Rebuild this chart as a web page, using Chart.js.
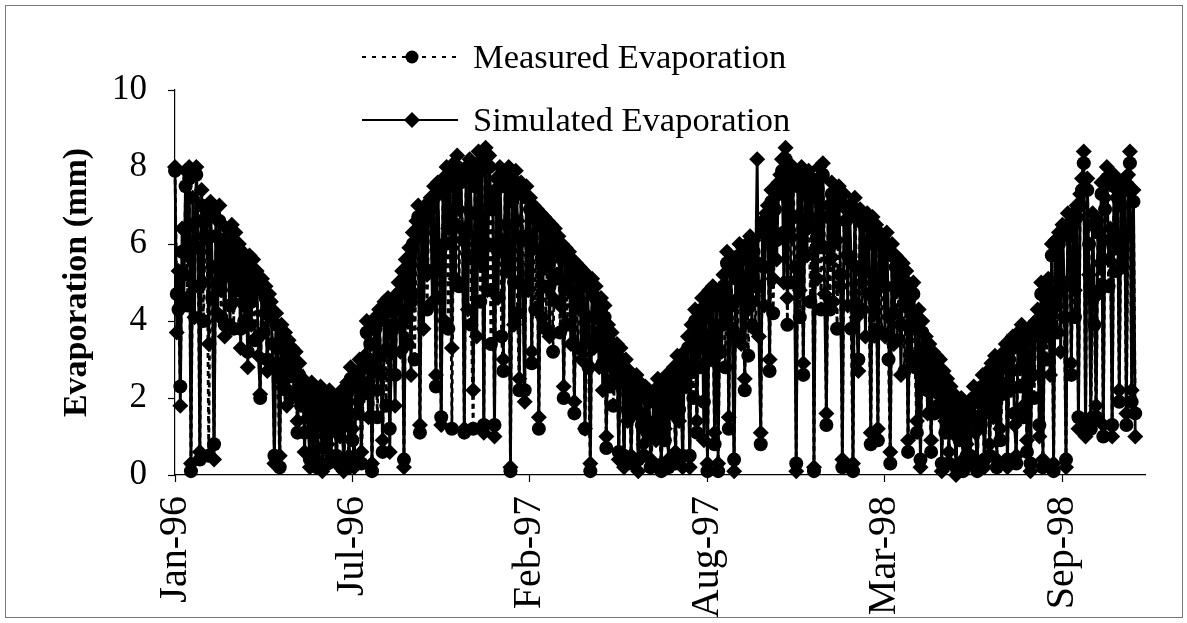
<!DOCTYPE html>
<html>
<head>
<meta charset="utf-8">
<script src="https://cdn.jsdelivr.net/npm/chart.js@4.4.1/dist/chart.umd.min.js"></script>
<style>
  html, body { margin: 0; padding: 0; background: #fff; }
  #wrap { position: relative; width: 1187px; height: 623px; }
  #wrap canvas { position: absolute; left: 0; top: 0; }
  #frame { position: absolute; left: 5px; top: 5px; width: 1176px; height: 611px;
           border: 1px solid #777; pointer-events: none; }
</style>
</head>
<body>
<div id="wrap">
  <canvas id="chart" width="1187" height="623"></canvas>
  <div id="frame"></div>
</div>
<script>
// Evaporation readings every 2 days from 1 Jan 1996 (mm)
const seriesNames = ['Measured Evaporation', 'Simulated Evaporation'];
const startDate = '1996-01-01';
const stepDays = 2;

const measured = [
  7.9, 4.7, 4.3, 2.3, 5.8, 5.2, 7.5, 4.4, 7.7, 0.1, 6.5, 4.9, 7.8, 5.9, 0.4, 7.0, 4.0, 6.2,
  6.9, 0.5, 6.8, 4.6, 0.8, 6.2, 5.0, 6.6, 4.1, 5.8, 3.9, 6.0, 5.2, 4.4, 6.1, 3.8, 5.9, 4.8,
  5.7, 3.8, 5.5, 4.0, 5.0, 3.2, 5.3, 4.5, 5.2, 3.5, 4.9, 3.6, 2.0, 4.8, 3.7, 4.6, 3.0, 4.4,
  4.2, 3.4, 0.5, 3.9, 2.7, 0.2, 3.6, 2.9, 3.4, 2.2, 3.2, 2.0, 3.0, 2.6, 2.9, 1.1, 2.6, 1.8,
  2.2, 1.1, 1.9, 1.8, 0.4, 2.1, 0.6, 1.6, 0.2, 1.3, 2.0, 0.7, 1.6, 1.0, 0.3, 1.9, 1.2, 1.7,
  1.4, 0.5, 1.8, 1.3, 1.9, 0.3, 1.3, 2.1, 0.2, 2.5, 0.9, 0.4, 2.3, 1.6, 2.7, 0.3, 2.1, 2.8,
  3.7, 2.4, 3.4, 0.1, 2.8, 3.8, 1.5, 4.0, 3.1, 0.6, 4.2, 1.8, 4.3, 1.2, 3.2, 3.9, 2.6, 4.4,
  4.7, 3.9, 5.0, 0.4, 5.3, 3.4, 5.6, 4.5, 6.0, 3.0, 6.3, 6.7, 1.1, 6.2, 5.4, 6.6, 4.3, 6.8,
  6.9, 5.3, 7.2, 2.3, 7.3, 4.6, 1.5, 7.4, 6.0, 7.7, 3.8, 7.5, 1.2, 7.8, 6.5, 8.0, 4.9, 7.6,
  6.4, 1.1, 7.7, 5.7, 7.9, 3.9, 1.2, 7.5, 6.2, 8.1, 4.5, 7.9, 1.3, 8.2, 6.0, 8.0, 3.4, 6.9,
  1.3, 7.4, 5.8, 7.7, 3.6, 2.7, 7.5, 6.5, 7.7, 0.1, 7.1, 5.0, 7.6, 4.2, 2.2, 7.3, 6.2, 2.2,
  7.2, 6.1, 6.9, 2.9, 6.7, 4.3, 6.6, 1.2, 6.5, 5.5, 6.4, 3.8, 6.3, 4.9, 6.2, 3.2, 6.1, 5.1,
  5.9, 3.7, 5.7, 2.0, 5.6, 3.9, 5.5, 4.8, 5.3, 1.6, 5.2, 3.3, 5.1, 4.3, 5.0, 1.2, 4.9, 2.8,
  0.1, 4.8, 4.1, 4.6, 3.5, 3.7, 4.3, 2.9, 4.1, 0.7, 3.6, 2.3, 3.4, 1.8, 2.7, 3.1, 0.6, 3.0,
  2.6, 0.5, 2.7, 1.7, 2.4, 0.3, 2.2, 1.6, 2.3, 0.4, 2.1, 1.3, 0.5, 2.0, 1.4, 1.9, 0.2, 1.0,
  1.9, 1.2, 2.2, 1.4, 0.1, 2.0, 0.9, 2.3, 0.2, 2.2, 1.6, 2.5, 0.3, 2.8, 1.7, 2.6, 0.5, 2.9,
  2.6, 3.3, 0.5, 3.6, 2.0, 4.0, 1.1, 3.9, 2.8, 4.3, 1.9, 4.1, 0.1, 4.5, 3.6, 4.6, 0.8, 4.4,
  0.1, 4.4, 3.9, 4.9, 2.8, 5.5, 1.2, 5.3, 4.4, 0.4, 5.1, 3.6, 5.7, 4.8, 5.6, 2.2, 5.7, 3.1,
  5.9, 4.5, 5.8, 3.8, 5.5, 4.9, 0.8, 6.3, 5.4, 6.5, 6.7, 2.7, 7.1, 4.2, 6.9, 6.1, 7.3, 7.5,
  7.9, 6.3, 8.2, 3.9, 7.8, 5.0, 7.7, 6.7, 0.3, 7.5, 4.1, 7.7, 2.6, 7.3, 6.4, 7.6, 4.5, 7.4,
  0.1, 7.2, 6.4, 7.7, 4.3, 7.8, 5.9, 1.3, 6.7, 4.3, 7.3, 6.2, 7.1, 3.8, 7.2, 5.2, 0.2, 7.0,
  6.6, 5.7, 6.7, 3.8, 0.1, 6.9, 5.4, 3.0, 6.6, 4.3, 6.5, 5.3, 6.5, 4.7, 0.8, 6.4, 3.6, 6.2,
  0.9, 6.0, 3.7, 5.9, 4.9, 6.0, 3.0, 0.3, 5.7, 4.2, 5.4, 3.5, 5.3, 3.9, 5.2, 2.7, 5.0, 0.6,
  4.6, 3.8, 4.7, 2.8, 1.1, 4.0, 0.4, 3.7, 3.0, 3.3, 2.2, 3.1, 0.6, 2.9, 1.6, 2.8, 1.8, 2.7,
  0.3, 2.4, 1.1, 2.2, 0.3, 2.0, 1.4, 1.8, 0.2, 1.6, 0.9, 1.7, 0.1, 1.4, 0.5, 1.6, 0.5, 1.5,
  2.0, 1.4, 0.1, 1.9, 1.3, 2.3, 0.4, 1.7, 2.4, 0.5, 2.6, 1.8, 2.8, 0.2, 2.7, 0.9, 2.1, 2.9,
  3.1, 0.4, 3.0, 2.7, 3.3, 1.6, 0.3, 3.4, 2.3, 3.6, 1.5, 3.2, 0.6, 3.5, 0.3, 3.6, 2.0, 3.7,
  4.0, 1.3, 4.7, 0.2, 4.3, 3.0, 4.8, 3.9, 5.7, 0.1, 5.8, 3.7, 6.0, 4.8, 6.2, 4.1, 0.4, 6.5,
  6.2, 2.6, 6.5, 4.1, 6.7, 1.5, 7.0, 7.4, 8.1, 1.3, 7.4, 6.0, 1.2, 6.5, 3.9, 1.5, 6.3, 4.8,
  7.3, 1.0, 6.9, 7.7, 4.9, 6.1, 1.3, 7.5, 5.3, 7.2, 1.9, 7.0, 6.2, 7.4, 1.3, 7.5, 8.1, 1.9,
  7.1, 1.6
];

const simulated = [
  8.0, 3.7, 5.3, 1.8, 6.4, 4.6, 7.9, 5.7, 8.0, 0.3, 7.2, 4.1, 8.0, 6.6, 0.6, 7.4, 5.0, 6.9,
  6.6, 3.4, 7.1, 5.4, 0.4, 6.7, 4.2, 7.0, 4.8, 6.1, 3.6, 6.4, 5.7, 3.9, 6.5, 4.5, 6.3, 5.1,
  6.0, 3.3, 5.8, 4.4, 5.4, 2.8, 5.7, 3.9, 5.6, 4.8, 5.3, 3.1, 2.1, 5.1, 4.2, 4.9, 2.7, 4.7,
  4.5, 2.9, 0.3, 4.2, 3.3, 0.5, 3.9, 2.4, 3.7, 1.8, 3.5, 2.7, 3.3, 2.1, 3.2, 1.4, 2.9, 2.3,
  2.5, 0.6, 2.2, 1.5, 0.2, 2.4, 1.0, 1.9, 0.4, 1.6, 2.3, 0.1, 1.9, 1.3, 0.8, 2.2, 0.5, 2.0,
  1.7, 0.3, 2.1, 1.0, 2.2, 0.1, 1.6, 2.4, 0.5, 2.8, 1.2, 0.2, 2.6, 1.9, 3.0, 0.6, 2.4, 3.1,
  4.0, 1.5, 3.0, 0.3, 3.4, 4.1, 2.2, 4.3, 2.6, 0.9, 4.5, 3.3, 4.6, 0.6, 3.7, 4.2, 1.8, 4.7,
  5.0, 3.2, 5.3, 0.2, 5.6, 4.1, 5.9, 2.6, 6.3, 4.7, 6.6, 7.0, 1.3, 6.5, 3.8, 6.9, 5.2, 7.1,
  7.2, 4.5, 7.5, 2.6, 7.6, 5.8, 1.3, 7.7, 4.0, 8.0, 6.4, 7.8, 3.3, 8.1, 5.1, 8.3, 6.9, 7.9,
  6.1, 1.2, 8.0, 4.3, 8.2, 6.8, 2.2, 7.8, 3.6, 8.4, 5.5, 8.2, 1.1, 8.5, 4.8, 8.3, 7.0, 7.2,
  1.0, 7.7, 4.6, 8.0, 6.1, 3.0, 7.8, 5.3, 8.0, 0.2, 7.4, 3.9, 7.9, 6.6, 2.5, 7.6, 4.9, 1.9,
  7.5, 4.8, 7.2, 3.2, 7.0, 5.9, 6.9, 1.5, 6.8, 4.1, 6.7, 5.4, 6.6, 3.6, 6.5, 4.6, 6.4, 5.8,
  6.2, 4.4, 6.0, 2.3, 5.9, 5.1, 5.8, 3.4, 5.6, 1.9, 5.5, 4.6, 5.4, 3.0, 5.3, 1.2, 5.2, 4.1,
  0.3, 5.1, 3.3, 4.9, 4.1, 2.8, 4.6, 2.2, 4.4, 1.0, 3.9, 3.0, 3.7, 2.4, 3.1, 3.4, 0.4, 3.3,
  2.9, 0.2, 3.0, 1.4, 2.7, 0.5, 2.5, 1.9, 2.6, 0.1, 2.4, 1.6, 0.8, 2.3, 1.1, 2.2, 0.4, 1.3,
  2.2, 0.9, 2.5, 1.7, 0.3, 2.3, 1.2, 2.6, 0.4, 2.5, 1.9, 2.8, 0.6, 3.1, 1.4, 2.9, 0.2, 3.2,
  2.3, 3.6, 0.2, 3.9, 2.7, 4.3, 1.4, 4.2, 3.3, 4.6, 0.9, 4.4, 0.3, 4.8, 3.0, 4.9, 1.1, 4.7,
  0.3, 4.7, 3.2, 5.2, 4.0, 5.8, 1.5, 5.6, 3.8, 0.1, 5.4, 4.6, 6.0, 3.4, 5.9, 2.5, 6.0, 4.3,
  6.2, 3.9, 6.1, 4.9, 8.2, 3.6, 1.1, 6.6, 4.4, 6.8, 7.0, 3.0, 7.4, 5.1, 7.2, 5.6, 7.6, 7.8,
  8.2, 5.0, 8.5, 4.6, 8.1, 6.2, 8.0, 5.4, 0.1, 7.8, 4.8, 8.0, 2.9, 7.6, 5.7, 7.9, 6.7, 7.7,
  0.2, 7.5, 5.1, 8.0, 6.0, 8.1, 4.7, 1.6, 7.0, 5.6, 7.6, 4.5, 7.4, 6.1, 7.5, 4.9, 0.4, 7.3,
  6.9, 4.4, 7.0, 5.5, 0.3, 7.2, 4.1, 2.7, 6.9, 5.0, 6.8, 3.6, 6.8, 6.0, 1.1, 6.7, 4.3, 6.5,
  1.2, 6.3, 4.9, 6.2, 3.6, 6.3, 4.1, 0.6, 6.0, 3.4, 5.7, 4.8, 5.6, 2.6, 5.5, 4.4, 5.3, 0.9,
  4.9, 3.1, 5.0, 3.9, 1.4, 4.3, 0.2, 4.0, 2.5, 3.6, 1.6, 3.4, 0.9, 3.2, 2.3, 3.1, 2.1, 3.0,
  0.1, 2.7, 1.4, 2.5, 0.6, 2.3, 1.1, 2.1, 0.0, 1.9, 1.2, 2.0, 0.4, 1.7, 0.8, 1.9, 0.3, 1.8,
  2.3, 1.1, 0.3, 2.2, 1.6, 2.6, 0.2, 2.0, 2.7, 0.8, 2.9, 1.5, 3.1, 0.4, 3.0, 1.2, 2.4, 3.2,
  3.4, 0.2, 3.3, 2.2, 3.6, 1.3, 0.5, 3.7, 2.8, 3.9, 1.8, 3.5, 0.9, 3.8, 0.1, 3.9, 2.6, 4.0,
  4.3, 1.0, 5.0, 0.4, 4.6, 3.6, 5.1, 2.6, 6.0, 0.3, 6.1, 4.4, 6.3, 3.2, 6.5, 5.0, 0.2, 6.8,
  6.5, 2.9, 6.8, 4.8, 7.0, 1.2, 7.3, 7.7, 8.4, 1.0, 7.7, 5.2, 1.5, 6.8, 4.6, 1.8, 6.6, 5.5,
  7.6, 1.3, 7.2, 8.0, 5.6, 6.4, 1.0, 7.8, 6.0, 7.5, 2.2, 7.3, 5.4, 7.7, 1.6, 7.8, 8.4, 2.2,
  7.4, 1.0
];

// Date axis: day offsets from the start date and their labels
const axisEndDay = 1093;
const tickDays = [0, 200, 400, 600, 800, 1000];
const tickLabels = ['Jan-96', 'Jul-96', 'Feb-97', 'Aug-97', 'Mar-98', 'Sep-98'];
const yTicks = [0, 2, 4, 6, 8, 10];

const serif = '"Liberation Serif", "Times New Roman", serif';

function toPoints(values) {
  return values.map((v, i) => ({ x: i * stepDays, y: v }));
}

// Legend drawn inside the upper part of the figure
const insetLegend = {
  id: 'insetLegend',
  afterDraw(chart) {
    const ctx = chart.ctx;
    const rows = [
      { ds: 0, lineY: 57 },
      { ds: 1, lineY: 120 }
    ];
    ctx.save();
    rows.forEach(r => {
      const ds = chart.data.datasets[r.ds];
      ctx.strokeStyle = '#000';
      ctx.lineWidth = 2;
      ctx.setLineDash(ds.borderDash ? [4, 6] : []);
      ctx.beginPath();
      ctx.moveTo(362, r.lineY);
      ctx.lineTo(458, r.lineY);
      ctx.stroke();
      ctx.setLineDash([]);
      ctx.fillStyle = '#000';
      ctx.beginPath();
      const cx = 412, cy = r.lineY;
      if (ds.pointStyle === 'circle') {
        ctx.arc(cx, cy, 6.5, 0, Math.PI * 2);
      } else {
        const s = 8;
        ctx.moveTo(cx - s, cy); ctx.lineTo(cx, cy - s);
        ctx.lineTo(cx + s, cy); ctx.lineTo(cx, cy + s);
        ctx.closePath();
      }
      ctx.fill();
      ctx.font = '34.5px ' + serif;
      ctx.textAlign = 'left';
      ctx.textBaseline = 'alphabetic';
      ctx.fillText(ds.label, 473, r.lineY + 11);
    });
    ctx.restore();
  }
};

new Chart(document.getElementById('chart'), {
  type: 'line',
  data: {
    datasets: [
      {
        label: seriesNames[0],
        data: toPoints(measured),
        borderColor: '#000',
        backgroundColor: '#000',
        borderWidth: 2.8,
        borderDash: [5, 4],
        pointStyle: 'circle',
        pointRadius: 7,
        pointBorderWidth: 0,
        pointBackgroundColor: '#000',
        tension: 0,
        clip: false
      },
      {
        label: seriesNames[1],
        data: toPoints(simulated),
        borderColor: '#000',
        backgroundColor: '#000',
        borderWidth: 2.8,
        pointStyle: 'rectRot',
        pointRadius: 8,
        pointBorderWidth: 0,
        pointBackgroundColor: '#000',
        tension: 0,
        clip: false
      }
    ]
  },
  options: {
    responsive: false,
    animation: false,
    events: [],
    layout: { padding: { left: 0, top: 90, right: 42, bottom: 0 } },
    plugins: { legend: { display: false }, tooltip: { enabled: false } },
    scales: {
      x: {
        type: 'linear',
        min: 0,
        max: axisEndDay,
        afterFit(scale) { scale.height = 148; },
        afterBuildTicks(scale) { scale.ticks = tickDays.map(v => ({ value: v })); },
        border: { display: true, color: '#000', width: 1.2 },
        grid: { drawOnChartArea: false, drawTicks: true, tickLength: 7, color: '#000', tickWidth: 1.2 },
        ticks: {
          autoSkip: false,
          minRotation: 90,
          maxRotation: 90,
          padding: 14,
          color: '#000',
          font: { family: serif, size: 40 },
          callback(value) {
            const k = tickDays.indexOf(value);
            return k >= 0 ? tickLabels[k] : '';
          }
        }
      },
      y: {
        min: 0,
        max: 10,
        afterFit(scale) { scale.width = 175; },
        afterBuildTicks(scale) { scale.ticks = yTicks.map(v => ({ value: v })); },
        border: { display: true, color: '#000', width: 1.2 },
        grid: { drawOnChartArea: false, drawTicks: true, tickLength: 7, color: '#000', tickWidth: 1.2 },
        ticks: {
          padding: 21,
          color: '#000',
          font: { family: serif, size: 35 }
        },
        title: {
          display: true,
          text: 'Evaporation (mm)',
          color: '#000',
          font: { family: serif, size: 34, weight: 'bold' },
          padding: { top: 57, bottom: 0 }
        }
      }
    }
  },
  plugins: [insetLegend]
});
</script>
</body>
</html>
